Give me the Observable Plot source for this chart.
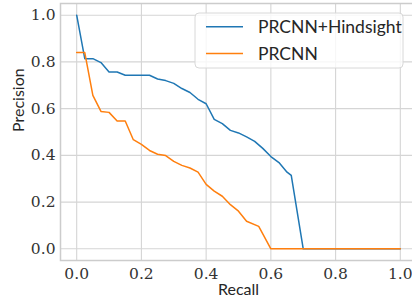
<!DOCTYPE html>
<html>
<head>
<meta charset="utf-8">
<script src="https://cdn.jsdelivr.net/npm/d3@7"></script>
<script src="https://cdn.jsdelivr.net/npm/@observablehq/plot@0.6"></script>
<style>
  html, body { margin: 0; padding: 0; background: #fff; }
  #chart { width: 412px; height: 301px; overflow: hidden; }
</style>
</head>
<body>
<div id="chart"></div>
<script>
// Series names
const seriesNames = ["PRCNN+Hindsight", "PRCNN"];
const seriesColors = ["#1f77b4", "#ff7f0e"];

// PRCNN+Hindsight
const hindRecall = [0, 0.025, 0.05, 0.075, 0.1, 0.125, 0.15, 0.175, 0.2, 0.225, 0.25, 0.275, 0.3, 0.325, 0.35, 0.375, 0.4, 0.425, 0.45, 0.475, 0.5, 0.525, 0.55, 0.575, 0.6, 0.625, 0.65, 0.663, 0.7, 1.0];
const hindPrecision = [1.0, 0.814, 0.814, 0.797, 0.757, 0.757, 0.743, 0.743, 0.743, 0.743, 0.727, 0.72, 0.708, 0.686, 0.669, 0.64, 0.621, 0.554, 0.536, 0.507, 0.496, 0.479, 0.46, 0.43, 0.395, 0.369, 0.328, 0.314, 0.0, 0.0];

// PRCNN
const baseRecall = [0, 0.025, 0.05, 0.075, 0.1, 0.125, 0.15, 0.175, 0.2, 0.225, 0.25, 0.275, 0.3, 0.325, 0.35, 0.375, 0.4, 0.425, 0.45, 0.475, 0.5, 0.525, 0.5625, 0.6, 1.0];
const basePrecision = [0.84, 0.84, 0.657, 0.588, 0.584, 0.547, 0.547, 0.467, 0.447, 0.421, 0.405, 0.399, 0.374, 0.357, 0.346, 0.328, 0.276, 0.247, 0.225, 0.189, 0.161, 0.118, 0.096, 0.0, 0.0];

// Tick values / labels
const xTicks = [0, 0.2, 0.4, 0.6, 0.8, 1.0];
const yTicks = [0, 0.2, 0.4, 0.6, 0.8, 1.0];
const xLabel = "Recall";
const yLabel = "Precision";

const data = [
  ...hindRecall.map((r, i) => ({series: seriesNames[0], recall: r, precision: hindPrecision[i]})),
  ...baseRecall.map((r, i) => ({series: seriesNames[1], recall: r, precision: basePrecision[i]}))
];

const sansFont = "Lato";
const serifFont = "DejaVu Serif";
const gridColor = "#d5d5d5";

const chart = Plot.plot({
  width: 412,
  height: 301,
  marginLeft: 60,
  marginRight: -4,
  marginTop: 3,
  marginBottom: 41,
  style: {background: "#fff", overflow: "hidden"},
  x: {domain: [-0.05, 1.05], axis: null},
  y: {domain: [-0.05, 1.05], axis: null},
  color: {domain: seriesNames, range: seriesColors},
  marks: [
    Plot.ruleX(xTicks, {stroke: gridColor, strokeWidth: 1.1}),
    Plot.ruleY(yTicks, {stroke: gridColor, strokeWidth: 1.1}),
    Plot.frame({stroke: "#cccccc", strokeWidth: 1.5}),
    Plot.line(data, {x: "recall", y: "precision", z: "series", stroke: "series", strokeWidth: 1.5, strokeLinejoin: "round"}),
    Plot.text(xTicks, {x: d => d, frameAnchor: "bottom", dy: 18, text: d => d.toFixed(1), fontFamily: serifFont, fontSize: 15.5, fill: "#333333"}),
    Plot.text(yTicks, {y: d => d, frameAnchor: "left", dx: -5, textAnchor: "end", text: d => d.toFixed(1), fontFamily: serifFont, fontSize: 15.5, fill: "#333333"}),
    Plot.text([xLabel], {frameAnchor: "bottom", dy: 34, text: d => d, fontFamily: sansFont, fontSize: 16, fill: "#262626"}),
    Plot.text([yLabel], {frameAnchor: "left", dx: -42, rotate: -90, text: d => d, fontFamily: sansFont, fontSize: 16, fill: "#262626"})
  ]
});

const svg = d3.select(chart);

// Legend (layout only)
const lg = svg.append("g").attr("transform", "translate(195,13)").attr("text-anchor", "start");
lg.append("rect").attr("x", 0).attr("y", 0).attr("width", 208).attr("height", 55)
  .attr("rx", 4).attr("fill", "rgba(255,255,255,0.8)").attr("stroke", "#d8d8d8").attr("stroke-width", 1);
seriesNames.forEach((name, i) => {
  const y = 13.7 + i * 26.7;
  lg.append("line").attr("x1", 11).attr("x2", 48).attr("y1", y).attr("y2", y)
    .attr("stroke", seriesColors[i]).attr("stroke-width", 1.5);
  lg.append("text").attr("x", 63).attr("y", y).attr("dy", "0.36em").attr("text-anchor", "start")
    .attr("font-family", sansFont).attr("font-size", 17.5).attr("fill", "#262626").text(name);
});

document.getElementById("chart").appendChild(chart);
</script>
</body>
</html>
